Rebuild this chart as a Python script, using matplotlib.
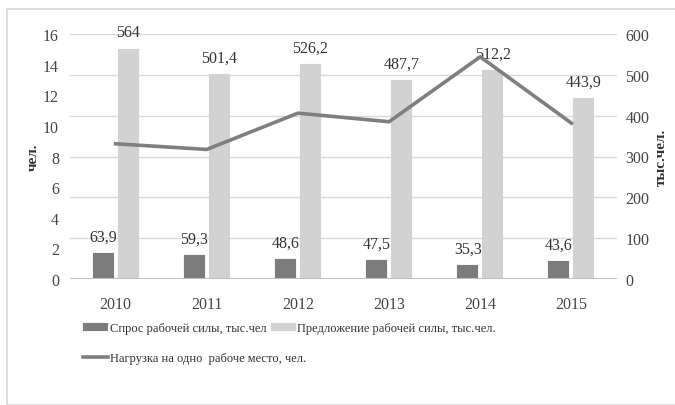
import numpy as np
import matplotlib
matplotlib.use('Agg')
import matplotlib.pyplot as plt
from matplotlib.patches import Rectangle

years = ['2010', '2011', '2012', '2013', '2014', '2015']
demand = [63.9, 59.3, 48.6, 47.5, 35.3, 43.6]          # тыс. чел
supply = [564, 501.4, 526.2, 487.7, 512.2, 443.9]      # тыс. чел
load = [8.83, 8.46, 10.83, 10.27, 14.51, 10.18]        # чел. на место

lbl_demand = 'Спрос рабочей силы, тыс.чел'
lbl_supply = 'Предложение рабочей силы, тыс.чел.'
lbl_load = 'Нагрузка на одно  рабоче место, чел.'

plt.rcParams['font.family'] = ['Liberation Serif', 'DejaVu Serif']
plt.rcParams['hatch.linewidth'] = 0.7

fig = plt.figure(figsize=(6.75, 4.06), dpi=100)
fig.patches.append(Rectangle((7 / 675, 0), 1, 1 - 10 / 406, transform=fig.transFigure,
                             fill=False, edgecolor='#d9d9d9', linewidth=1.2))

ax = fig.add_axes([70 / 675, 1 - 280 / 406, 547 / 675, 245 / 406])
axl = ax.twinx()

x = np.arange(len(years))
w = 0.23
gap = 0.045

b1 = ax.bar(x - w / 2 - gap / 2, demand, w, color='#4e4e4e', edgecolor='#7c7c7c',
            hatch='-' * 30, linewidth=0.1, label=lbl_demand, zorder=2)
b2 = ax.bar(x + w / 2 + gap / 2, supply, w, color='#bababa', edgecolor='#d2d2d2',
            hatch='-' * 30, linewidth=0.1, label=lbl_supply, zorder=2)

for r, v in zip(b1, demand):
    ax.annotate(str(v).replace('.', ','), (r.get_x() + r.get_width() / 2, v),
                xytext=(0, 6), textcoords='offset points', ha='center',
                va='bottom', fontsize=11.5, color='#333333')
for r, v in zip(b2, supply):
    ax.annotate(('%g' % v).replace('.', ','), (r.get_x() + r.get_width() / 2, v),
                xytext=(0, 6), textcoords='offset points', ha='center',
                va='bottom', fontsize=11.5, color='#333333')

ax.set_xlim(-0.5, len(years) - 0.5)
ax.set_ylim(0, 600)
ax.set_yticks(range(0, 601, 100))
ax.grid(axis='y', color='#d9d9d9', linewidth=1, zorder=0)
ax.set_axisbelow(True)
ax.set_xticks(x)
ax.set_xticklabels(years)
for s in ax.spines.values():
    s.set_visible(False)
ax.axhline(0, color='#bfbfbf', linewidth=1.5, zorder=3)

axl.plot(x, load, color='#7f7f7f', linewidth=2.6, label=lbl_load, zorder=4)
axl.set_ylim(0, 16)
axl.set_yticks(range(0, 17, 2))
for s in axl.spines.values():
    s.set_visible(False)

# bars scale on the right, line scale on the left
ax.yaxis.tick_right()
ax.yaxis.set_label_position('right')
axl.yaxis.tick_left()
axl.yaxis.set_label_position('left')
ax.set_ylabel('тыс.чел.', fontsize=11, fontweight='bold', labelpad=4, color='#333333')
axl.set_ylabel('чел.', fontsize=11, fontweight='bold', labelpad=2, color='#333333')
ax.tick_params(axis='both', length=0, labelsize=11.5, colors='#444444')
ax.tick_params(axis='x', pad=12)
ax.tick_params(axis='y', pad=6)
axl.tick_params(axis='y', length=0, labelsize=11.5, colors='#444444', pad=8)

leg_kw = dict(frameon=False, fontsize=9, handlelength=2.0, handleheight=0.6,
              handletextpad=0.1, labelcolor='#333333', loc='upper left')
leg1 = fig.legend([b1, b2], [lbl_demand, lbl_supply], ncol=2, columnspacing=0.4,
                  bbox_to_anchor=(72 / 675, 1 - 312 / 406), **leg_kw)
leg2 = fig.legend(axl.get_lines(), [lbl_load],
                  bbox_to_anchor=(72 / 675, 1 - 342 / 406), **leg_kw)

fig.savefig('out.png', dpi=100)
